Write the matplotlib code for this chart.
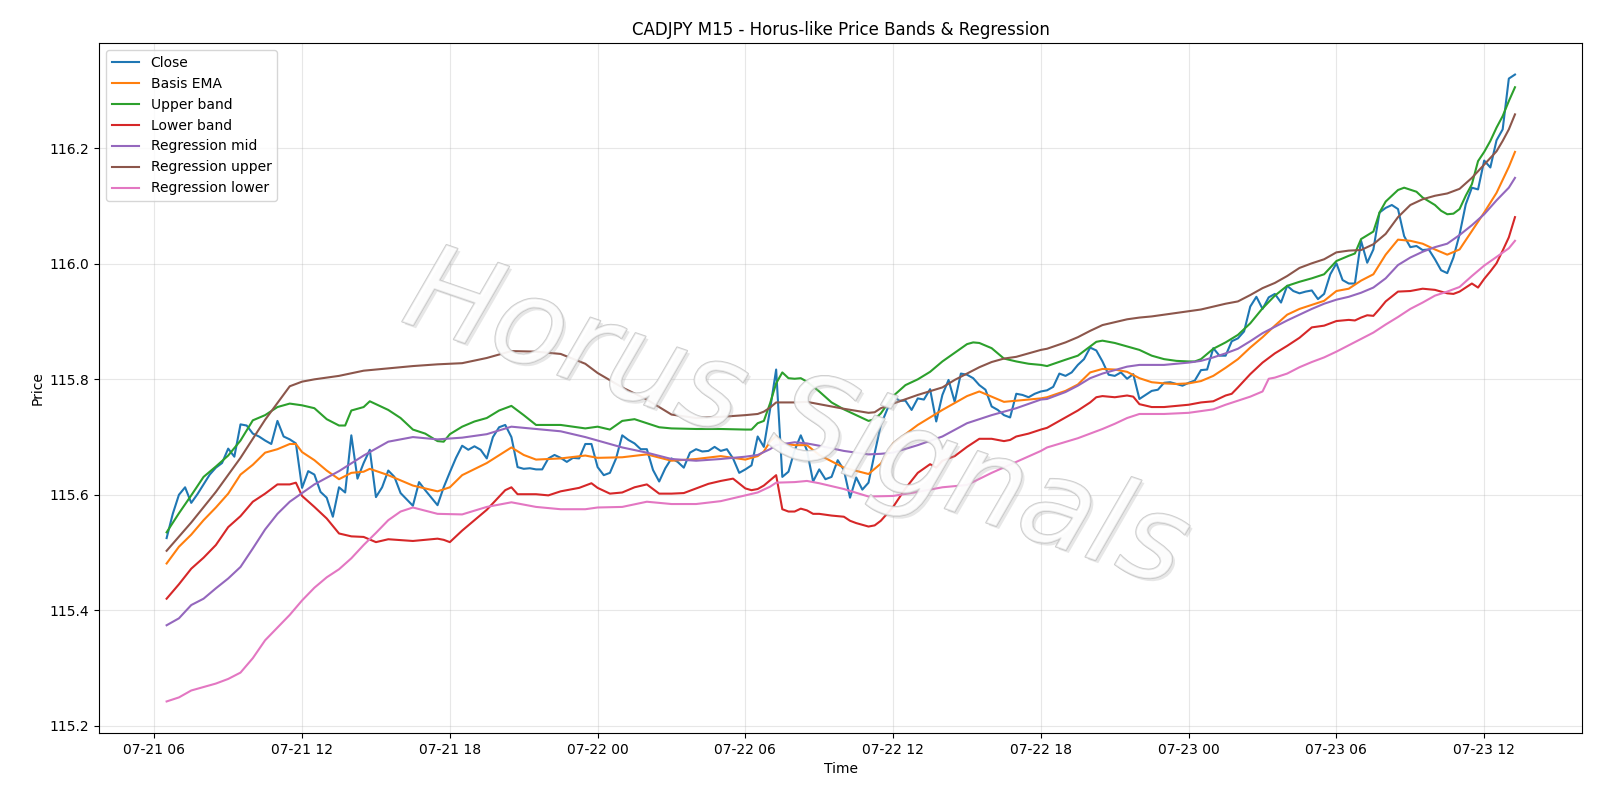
import matplotlib
matplotlib.use("Agg")
import matplotlib.pyplot as plt
import matplotlib.dates as mdates
import matplotlib.patheffects as pe
import numpy as np
import pandas as pd

# M15 bars, first bar 07-21 06:30
start_time = "2025-07-21 06:30"
n_bars = 220

close = [
    115.525, 115.567, 115.600, 115.613, 115.586, 115.601, 115.618, 115.635, 115.647, 115.655,
    115.680, 115.666, 115.722, 115.720, 115.706, 115.701, 115.694, 115.688, 115.728, 115.701,
    115.696, 115.689, 115.612, 115.641, 115.635, 115.605, 115.595, 115.562, 115.613, 115.604,
    115.703, 115.628, 115.655, 115.678, 115.596, 115.613, 115.642, 115.631, 115.603, 115.592,
    115.581, 115.622, 115.608, 115.595, 115.582, 115.613, 115.639, 115.664, 115.685, 115.678,
    115.684, 115.678, 115.663, 115.700, 115.717, 115.721, 115.700, 115.648, 115.645, 115.646,
    115.644, 115.644, 115.663, 115.669, 115.664, 115.657, 115.664, 115.663, 115.688, 115.688,
    115.648, 115.634, 115.638, 115.663, 115.703, 115.695, 115.689, 115.679, 115.679, 115.643,
    115.623, 115.646, 115.663, 115.657, 115.647, 115.673, 115.679, 115.675, 115.676, 115.683,
    115.676, 115.679, 115.663, 115.638, 115.644, 115.651, 115.701, 115.683, 115.747, 115.817,
    115.631, 115.640, 115.677, 115.703, 115.677, 115.623, 115.644, 115.627, 115.631, 115.660,
    115.643, 115.595, 115.630, 115.609, 115.621, 115.672, 115.721, 115.747, 115.771, 115.763,
    115.763, 115.747, 115.767, 115.765, 115.783, 115.727, 115.773, 115.799, 115.761, 115.810,
    115.808, 115.802, 115.790, 115.782, 115.753, 115.747, 115.738, 115.734, 115.775, 115.773,
    115.769, 115.775, 115.779, 115.781, 115.787, 115.810, 115.806, 115.812, 115.825, 115.835,
    115.855, 115.850, 115.831, 115.808, 115.806, 115.812, 115.801, 115.809, 115.766, 115.773,
    115.780, 115.782, 115.794, 115.795, 115.792, 115.789, 115.794, 115.798, 115.816, 115.817,
    115.854, 115.841, 115.841, 115.866, 115.871, 115.883, 115.926, 115.943, 115.922, 115.942,
    115.948, 115.933, 115.962, 115.953, 115.949, 115.952, 115.954, 115.939, 115.948, 115.982,
    116.001, 115.972, 115.966, 115.966, 116.040, 116.002, 116.025, 116.089, 116.097, 116.102,
    116.095, 116.048, 116.029, 116.031, 116.024, 116.025, 116.008, 115.989, 115.984, 116.011,
    116.051, 116.103, 116.132, 116.129, 116.179, 116.167, 116.214, 116.233, 116.321, 116.328,
]

# smoother series: bar index -> value
ema_idx = [0, 2, 4, 6, 8, 10, 12, 14, 16, 18, 20, 21, 22, 24, 26, 28, 30, 32, 33, 36, 40, 44, 46, 48, 52,
           56, 58, 60, 64, 68, 70, 74, 78, 82, 86, 90, 94, 96, 97, 98, 99, 100, 102, 104, 106, 110, 114,
           116, 118, 122, 126, 130, 132, 134, 136, 138, 142, 143, 146, 148, 150, 152, 154, 156, 158, 160,
           162, 164, 166, 168, 170, 172, 174, 176, 178, 180, 182, 184, 186, 188, 190, 192, 194, 196, 198,
           200, 202, 204, 206, 208, 210, 212, 214, 216, 218, 219]
ema_val = [115.481, 115.510, 115.531, 115.556, 115.578, 115.602, 115.635, 115.652, 115.673, 115.679,
           115.688, 115.688, 115.674, 115.660, 115.642, 115.627, 115.638, 115.640, 115.645, 115.634,
           115.616, 115.606, 115.613, 115.634, 115.655, 115.682, 115.669, 115.661, 115.663, 115.668,
           115.664, 115.665, 115.670, 115.659, 115.662, 115.667, 115.661, 115.667, 115.675, 115.692,
           115.702, 115.689, 115.686, 115.686, 115.669, 115.647, 115.636, 115.654, 115.689, 115.721,
           115.747, 115.771, 115.779, 115.770, 115.761, 115.763, 115.767, 115.769, 115.780, 115.791,
           115.812, 115.818, 115.817, 115.813, 115.802, 115.795, 115.793, 115.792, 115.793, 115.797,
           115.806, 115.820, 115.835, 115.855, 115.873, 115.893, 115.912, 115.922, 115.929, 115.936,
           115.953, 115.957, 115.971, 115.982, 116.016, 116.042, 116.040, 116.035, 116.025, 116.016,
           116.025, 116.057, 116.089, 116.123, 116.168, 116.194]

upper_idx = [0, 2, 4, 6, 8, 10, 12, 14, 16, 18, 20, 22, 24, 26, 28, 29, 30, 32, 33, 36, 38, 40, 42, 44,
             45, 46, 48, 50, 52, 54, 56, 58, 60, 64, 68, 70, 72, 74, 76, 78, 80, 82, 86, 90, 94, 95, 96,
             97, 98, 99, 100, 101, 102, 103, 104, 106, 108, 110, 112, 114, 115, 116, 118, 120, 122, 124,
             126, 128, 130, 131, 132, 134, 136, 138, 140, 142, 143, 146, 148, 150, 151, 152, 154, 156,
             158, 160, 162, 164, 166, 167, 168, 170, 172, 174, 176, 178, 180, 182, 184, 186, 188, 190,
             192, 193, 194, 196, 197, 198, 200, 201, 203, 204, 206, 207, 208, 209, 210, 211, 212, 213,
             214, 215, 216, 217, 218, 219]
upper_val = [115.535, 115.568, 115.599, 115.631, 115.649, 115.668, 115.694, 115.729, 115.738, 115.752,
             115.758, 115.755, 115.750, 115.731, 115.720, 115.720, 115.746, 115.752, 115.762, 115.747,
             115.733, 115.713, 115.706, 115.693, 115.692, 115.705, 115.718, 115.727, 115.733, 115.746,
             115.754, 115.738, 115.721, 115.721, 115.715, 115.718, 115.713, 115.728, 115.731, 115.724,
             115.717, 115.715, 115.714, 115.714, 115.713, 115.713, 115.724, 115.728, 115.758, 115.793,
             115.812, 115.802, 115.801, 115.802, 115.796, 115.779, 115.760, 115.748, 115.738, 115.728,
             115.731, 115.741, 115.771, 115.790, 115.800, 115.813, 115.831, 115.846, 115.861, 115.864,
             115.863, 115.854, 115.836, 115.831, 115.827, 115.825, 115.823, 115.834, 115.841, 115.857,
             115.865, 115.867, 115.863, 115.857, 115.851, 115.841, 115.835, 115.832, 115.831, 115.831,
             115.835, 115.853, 115.864, 115.877, 115.897, 115.923, 115.945, 115.962, 115.969, 115.975,
             115.982, 116.005, 116.014, 116.018, 116.043, 116.056, 116.089, 116.108, 116.128, 116.132,
             116.125, 116.115, 116.102, 116.092, 116.086, 116.087, 116.095, 116.118, 116.138, 116.178,
             116.194, 116.213, 116.236, 116.256, 116.282, 116.306]

lower_idx = [0, 2, 4, 6, 8, 10, 12, 14, 16, 18, 20, 21, 22, 24, 26, 28, 30, 32, 34, 36, 40, 44, 45, 46,
             48, 52, 55, 56, 57, 60, 62, 64, 67, 69, 70, 72, 74, 76, 78, 80, 82, 84, 86, 88, 90, 92, 94,
             95, 96, 97, 98, 99, 100, 101, 102, 103, 104, 105, 106, 108, 110, 111, 112, 114, 115, 116,
             117, 118, 120, 122, 124, 125, 126, 128, 130, 132, 134, 136, 137, 138, 140, 142, 143, 146,
             148, 150, 151, 152, 154, 156, 157, 158, 160, 162, 164, 166, 168, 170, 172, 173, 174, 176,
             178, 180, 182, 184, 186, 188, 190, 192, 193, 194, 195, 196, 197, 198, 200, 202, 204, 206,
             208, 209, 210, 211, 212, 213, 214, 215, 216, 217, 218, 219]
lower_val = [115.420, 115.445, 115.472, 115.491, 115.513, 115.544, 115.563, 115.588, 115.602, 115.618,
             115.618, 115.621, 115.598, 115.579, 115.559, 115.533, 115.528, 115.527, 115.518, 115.523,
             115.520, 115.524, 115.522, 115.518, 115.538, 115.574, 115.608, 115.613, 115.601, 115.601,
             115.599, 115.606, 115.612, 115.620, 115.612, 115.602, 115.604, 115.613, 115.618, 115.602,
             115.602, 115.603, 115.611, 115.619, 115.624, 115.628, 115.611, 115.608, 115.610, 115.616,
             115.625, 115.634, 115.575, 115.571, 115.571, 115.576, 115.573, 115.567, 115.567, 115.564,
             115.562, 115.555, 115.551, 115.545, 115.547, 115.555, 115.567, 115.579, 115.611, 115.638,
             115.653, 115.647, 115.659, 115.667, 115.683, 115.697, 115.697, 115.693, 115.695, 115.701,
             115.706, 115.713, 115.716, 115.734, 115.746, 115.760, 115.769, 115.771, 115.769, 115.772,
             115.770, 115.757, 115.752, 115.752, 115.754, 115.756, 115.760, 115.762, 115.772, 115.775,
             115.786, 115.809, 115.829, 115.845, 115.858, 115.872, 115.890, 115.893, 115.901, 115.903,
             115.902, 115.907, 115.911, 115.910, 115.922, 115.935, 115.952, 115.953, 115.957, 115.955,
             115.949, 115.948, 115.952, 115.959, 115.966, 115.959, 115.974, 115.987, 116.001, 116.023,
             116.046, 116.081]

reg_mid_idx = [0, 2, 4, 6, 8, 10, 12, 14, 16, 18, 20, 24, 28, 32, 36, 40, 44, 48, 52, 56, 60, 64, 68, 70,
               74, 78, 82, 86, 90, 94, 96, 98, 99, 102, 104, 106, 110, 114, 116, 118, 122, 126, 130, 134,
               138, 142, 143, 146, 148, 150, 152, 154, 156, 158, 162, 164, 166, 168, 170, 172, 174, 176,
               178, 180, 182, 184, 186, 188, 190, 192, 194, 196, 198, 200, 202, 204, 206, 208, 210, 212,
               214, 216, 218, 219]
reg_mid_val = [115.374, 115.386, 115.409, 115.420, 115.438, 115.455, 115.475, 115.507, 115.540, 115.567,
               115.588, 115.618, 115.641, 115.668, 115.692, 115.700, 115.696, 115.699, 115.705, 115.718,
               115.714, 115.710, 115.700, 115.694, 115.682, 115.673, 115.662, 115.659, 115.662, 115.666,
               115.669, 115.679, 115.686, 115.691, 115.689, 115.685, 115.676, 115.670, 115.671, 115.673,
               115.686, 115.701, 115.724, 115.738, 115.750, 115.765, 115.766, 115.778, 115.789, 115.802,
               115.810, 115.816, 115.822, 115.825, 115.825, 115.827, 115.829, 115.832, 115.838, 115.845,
               115.853, 115.866, 115.880, 115.891, 115.902, 115.912, 115.922, 115.931, 115.938, 115.943,
               115.950, 115.959, 115.975, 115.998, 116.011, 116.021, 116.029, 116.035, 116.050, 116.067,
               116.086, 116.110, 116.132, 116.149]

reg_up_idx = [0, 4, 8, 12, 16, 18, 20, 22, 24, 28, 32, 36, 40, 44, 48, 52, 56, 60, 64, 68, 70, 74, 78,
              82, 86, 90, 94, 96, 97, 98, 99, 102, 104, 106, 110, 114, 115, 116, 118, 122, 126, 128, 130,
              132, 134, 136, 138, 140, 142, 143, 146, 148, 150, 152, 154, 156, 158, 160, 162, 164, 166,
              168, 170, 172, 174, 176, 178, 180, 182, 184, 186, 188, 190, 192, 194, 196, 198, 200, 202,
              204, 206, 208, 210, 212, 214, 216, 217, 218, 219]
reg_up_val = [115.503, 115.552, 115.605, 115.664, 115.730, 115.759, 115.788, 115.796, 115.800, 115.806,
              115.815, 115.819, 115.823, 115.826, 115.828, 115.837, 115.849, 115.848, 115.844, 115.827,
              115.811, 115.786, 115.765, 115.739, 115.733, 115.735, 115.738, 115.740, 115.744, 115.751,
              115.760, 115.760, 115.761, 115.757, 115.749, 115.742, 115.743, 115.750, 115.758, 115.773,
              115.786, 115.799, 115.810, 115.821, 115.830, 115.836, 115.839, 115.845, 115.851, 115.853,
              115.864, 115.873, 115.884, 115.894, 115.899, 115.904, 115.907, 115.909, 115.912, 115.915,
              115.918, 115.921, 115.926, 115.931, 115.935, 115.946, 115.958, 115.967, 115.979, 115.993,
              116.001, 116.008, 116.020, 116.023, 116.024, 116.034, 116.052, 116.081, 116.102, 116.112,
              116.118, 116.122, 116.130, 116.149, 116.172, 116.195, 116.213, 116.233, 116.259]

reg_lo_idx = [0, 2, 4, 6, 8, 10, 12, 14, 16, 18, 20, 22, 24, 26, 28, 30, 32, 34, 36, 38, 40, 44, 48, 52,
              56, 60, 64, 68, 70, 74, 78, 82, 86, 90, 94, 96, 98, 99, 102, 104, 106, 110, 114, 118, 122,
              126, 130, 134, 138, 142, 143, 148, 150, 152, 154, 156, 158, 162, 164, 166, 168, 170, 172,
              174, 176, 178, 179, 180, 182, 184, 186, 188, 190, 192, 194, 196, 198, 200, 202, 204, 206,
              208, 210, 212, 214, 216, 218, 219]
reg_lo_val = [115.242, 115.249, 115.261, 115.267, 115.273, 115.281, 115.292, 115.317, 115.348, 115.370,
              115.392, 115.417, 115.439, 115.457, 115.471, 115.490, 115.513, 115.534, 115.556, 115.571,
              115.578, 115.567, 115.566, 115.579, 115.587, 115.579, 115.575, 115.575, 115.578, 115.579,
              115.588, 115.584, 115.584, 115.589, 115.599, 115.604, 115.614, 115.621, 115.622, 115.624,
              115.620, 115.610, 115.597, 115.598, 115.605, 115.613, 115.617, 115.638, 115.657, 115.676,
              115.682, 115.698, 115.706, 115.714, 115.723, 115.733, 115.740, 115.740, 115.741, 115.742,
              115.745, 115.748, 115.756, 115.763, 115.770, 115.779, 115.801, 115.803, 115.810, 115.821,
              115.830, 115.838, 115.848, 115.859, 115.870, 115.881, 115.895, 115.908, 115.922, 115.933,
              115.945, 115.952, 115.960, 115.979, 115.997, 116.012, 116.027, 116.040]

times = pd.date_range(start_time, periods=n_bars, freq="15min")

fig, ax = plt.subplots(figsize=(16, 8), dpi=100)

ax.plot(times, close, label="Close")
ax.plot(times[ema_idx], ema_val, label="Basis EMA")
ax.plot(times[upper_idx], upper_val, label="Upper band")
ax.plot(times[lower_idx], lower_val, label="Lower band")
ax.plot(times[reg_mid_idx], reg_mid_val, label="Regression mid")
ax.plot(times[reg_up_idx], reg_up_val, label="Regression upper")
ax.plot(times[reg_lo_idx], reg_lo_val, label="Regression lower")

# watermark (drawn over the lines, semi transparent)
ax.text(0.47, 0.45, "Horus Signals", transform=ax.transAxes, fontsize=86,
        style="italic", fontweight="light", color=(1, 1, 1, 0.55), rotation=-19,
        ha="center", va="center", zorder=10,
        path_effects=[pe.withSimplePatchShadow(offset=(2, -2), shadow_rgbFace="#b0b0b0", alpha=0.3),
                      pe.withStroke(linewidth=1.2, foreground=(0.75, 0.75, 0.75, 0.8))])

ax.xaxis.set_major_locator(mdates.HourLocator(byhour=[0, 6, 12, 18]))
ax.xaxis.set_major_formatter(mdates.DateFormatter("%m-%d %H"))
ax.set_title("CADJPY M15 - Horus-like Price Bands & Regression")
ax.set_xlabel("Time")
ax.set_ylabel("Price")
ax.grid(True, alpha=0.3)
ax.legend(loc="upper left")

plt.subplots_adjust(left=0.062, right=0.989, top=0.946, bottom=0.084)
plt.savefig("out.png")
